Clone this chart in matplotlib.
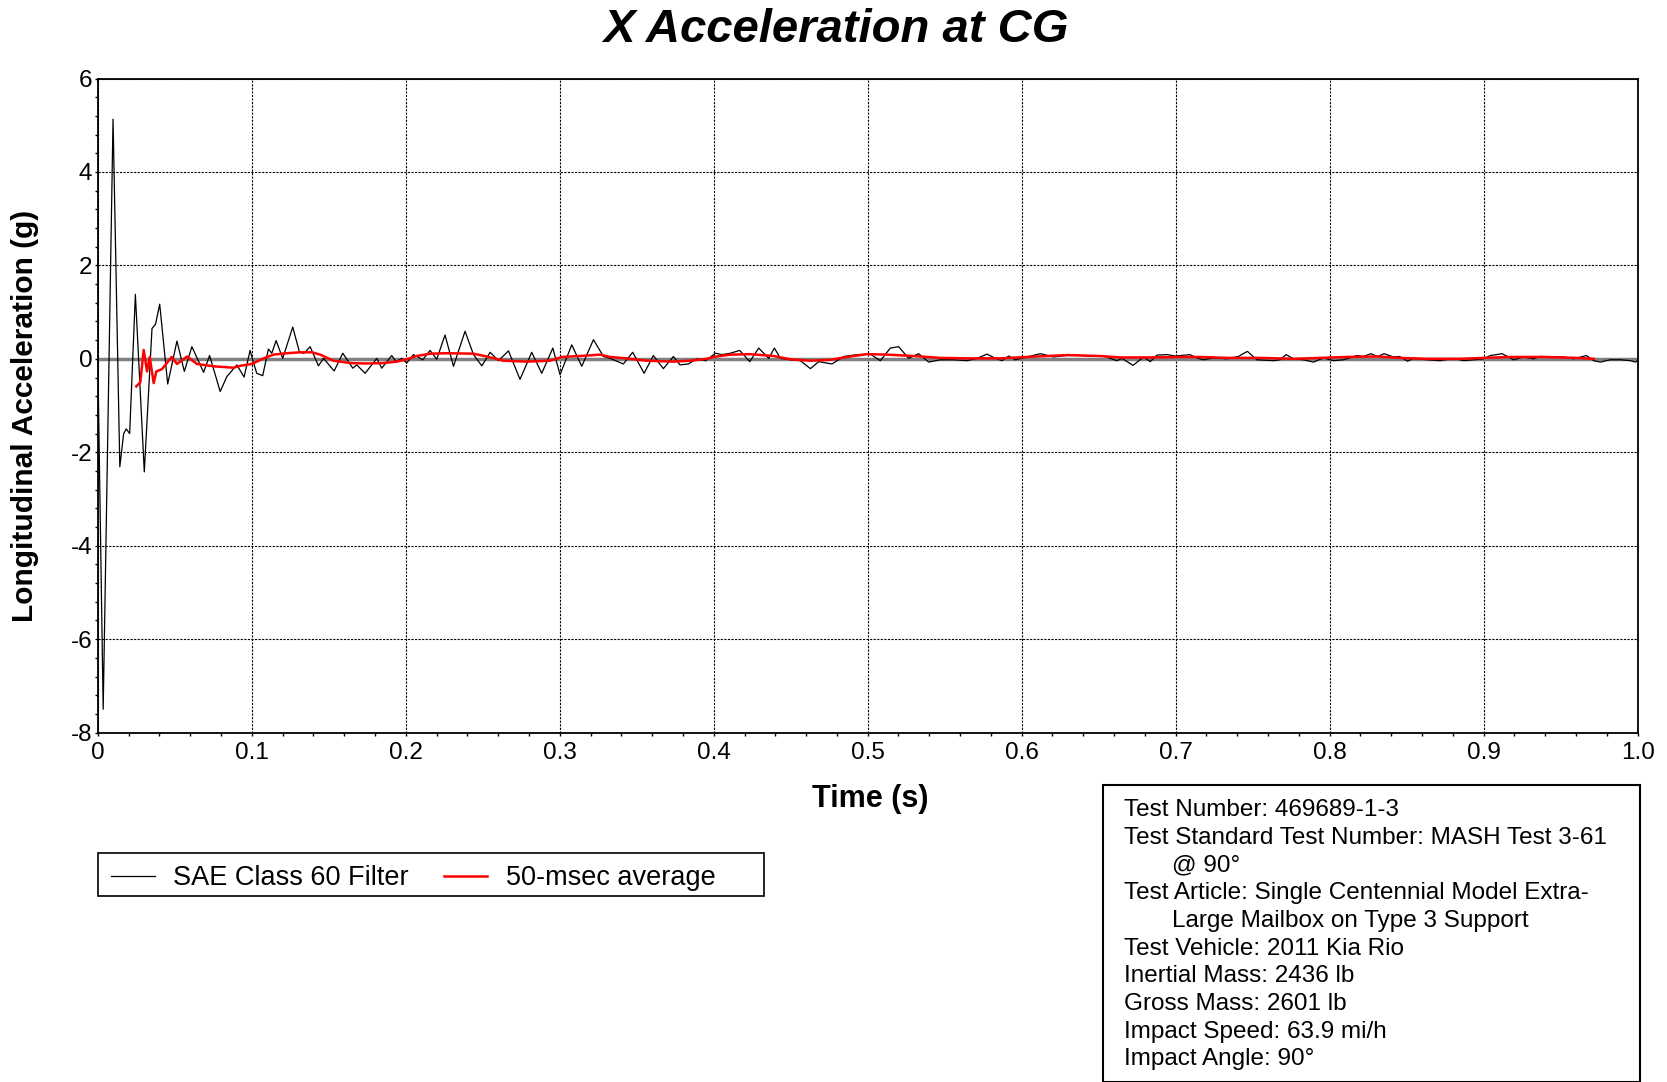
import matplotlib

matplotlib.use("Agg")
import matplotlib.pyplot as plt
from matplotlib.patches import Rectangle
from matplotlib.ticker import MultipleLocator

plt.rcParams["font.family"] = ["Liberation Sans", "DejaVu Sans"]

# SAE Class 60 filtered signal (time in s, accel in g)
SAE_TIME = [
    0.0, 0.0035, 0.0099, 0.0143, 0.0168, 0.0185, 0.0207, 0.0244, 0.0302, 0.0352,
    0.0375, 0.0402, 0.0454, 0.0514, 0.0562, 0.0611, 0.0687, 0.0726, 0.0795, 0.0838,
    0.0903, 0.0950, 0.0989, 0.1006, 0.1032, 0.1071, 0.1108, 0.1130, 0.1158, 0.1201,
    0.1266, 0.1310, 0.1340, 0.1379, 0.1433, 0.1466, 0.1535, 0.1591, 0.1656, 0.1682,
    0.1736, 0.1812, 0.1844, 0.1909, 0.1937, 0.1974, 0.2006, 0.2050, 0.2110, 0.2158,
    0.2201, 0.2255, 0.2310, 0.2385, 0.2440, 0.2494, 0.2548, 0.2602, 0.2667, 0.2742,
    0.2818, 0.2883, 0.2955, 0.3002, 0.3078, 0.3143, 0.3219, 0.3284, 0.3327, 0.3413,
    0.3474, 0.3548, 0.3608, 0.3673, 0.3738, 0.3781, 0.3835, 0.3889, 0.3913, 0.3948,
    0.4011, 0.4054, 0.4108, 0.4169, 0.4234, 0.4292, 0.4357, 0.4394, 0.4433, 0.4498,
    0.4563, 0.4628, 0.4682, 0.4768, 0.4844, 0.4931, 0.5017, 0.5082, 0.5147, 0.5201,
    0.5266, 0.5331, 0.5396, 0.5472, 0.5558, 0.5645, 0.5710, 0.5775, 0.5818, 0.5872,
    0.5916, 0.5959, 0.6035, 0.6121, 0.6208, 0.6338, 0.6446, 0.6532, 0.6619, 0.6651,
    0.6723, 0.6792, 0.6835, 0.6879, 0.6944, 0.7000, 0.7093, 0.7137, 0.7180, 0.7245,
    0.7332, 0.7407, 0.7466, 0.7527, 0.7635, 0.7678, 0.7717, 0.7765, 0.7830, 0.7895,
    0.7960, 0.8025, 0.8090, 0.8177, 0.8220, 0.8268, 0.8311, 0.8354, 0.8415, 0.8454,
    0.8506, 0.8545, 0.8632, 0.8718, 0.8805, 0.8870, 0.8935, 0.9000, 0.9043, 0.9120,
    0.9195, 0.9260, 0.9325, 0.9365, 0.9520, 0.9585, 0.9667, 0.9715, 0.9758, 0.9823,
    0.9889, 0.9954, 0.9986, 1.0,
]
SAE_ACCEL = [
    0.0, -7.5, 5.13, -2.31, -1.6, -1.5, -1.6, 1.38, -2.42, 0.65,
    0.74, 1.17, -0.54, 0.38, -0.27, 0.26, -0.29, 0.07, -0.70, -0.38,
    -0.13, -0.39, 0.18, -0.02, -0.31, -0.36, 0.21, 0.12, 0.39, 0.01,
    0.68, 0.14, 0.12, 0.26, -0.15, 0.01, -0.26, 0.12, -0.20, -0.13,
    -0.31, 0.01, -0.20, 0.07, -0.06, 0.01, -0.09, 0.09, -0.02, 0.18,
    -0.01, 0.51, -0.16, 0.59, 0.09, -0.15, 0.14, -0.04, 0.17, -0.44,
    0.14, -0.31, 0.23, -0.34, 0.30, -0.16, 0.41, 0.05, 0.01, -0.11,
    0.14, -0.31, 0.07, -0.21, 0.05, -0.13, -0.11, 0.0, -0.02, -0.04,
    0.12, 0.09, 0.12, 0.18, -0.06, 0.23, 0.01, 0.23, 0.01, -0.02,
    -0.04, -0.21, -0.06, -0.11, 0.05, 0.09, 0.10, -0.04, 0.23, 0.26,
    0.01, 0.11, -0.07, -0.02, -0.02, -0.04, 0.01, 0.10, 0.03, -0.04,
    0.06, -0.02, 0.04, 0.11, 0.04, 0.09, 0.05, 0.06, -0.04, 0.01,
    -0.14, 0.04, -0.06, 0.08, 0.09, 0.06, 0.09, 0.02, -0.02, 0.02,
    0.0, 0.05, 0.16, -0.02, -0.04, -0.02, 0.09, 0.0, -0.02, -0.07,
    0.02, -0.04, -0.02, 0.07, 0.05, 0.11, 0.05, 0.11, 0.04, 0.05,
    -0.05, 0.01, -0.02, -0.04, 0.01, -0.04, -0.02, 0.0, 0.07, 0.11,
    -0.02, 0.04, 0.0, 0.05, 0.04, 0.0, 0.07, -0.04, -0.07, -0.02,
    -0.02, -0.04, -0.07, -0.04,
]

# 50-msec moving average
AVG_TIME = [
    0.025, 0.0276, 0.0298, 0.032, 0.0337, 0.0363, 0.038, 0.0417, 0.048, 0.0514,
    0.058, 0.0644, 0.0752, 0.0881, 0.0924, 0.1, 0.1076, 0.1141, 0.1227, 0.1314,
    0.139, 0.1444, 0.153, 0.1639, 0.1747, 0.1855, 0.1942, 0.2006, 0.2071, 0.2158,
    0.2266, 0.2439, 0.2526, 0.2634, 0.2786, 0.2937, 0.3013, 0.3132, 0.3262, 0.3327,
    0.3435, 0.3565, 0.3738, 0.3846, 0.3955, 0.4, 0.4108, 0.4238, 0.439, 0.4498,
    0.4628, 0.4758, 0.4866, 0.4996, 0.5126, 0.5299, 0.5472, 0.5645, 0.5861, 0.6035,
    0.6294, 0.6511, 0.6641, 0.6835, 0.703, 0.7158, 0.7332, 0.7548, 0.7765, 0.7938,
    0.8112, 0.8307, 0.8458, 0.8632, 0.8849, 0.9, 0.9173, 0.939, 0.9607, 0.9715,
]
AVG_ACCEL = [
    -0.59, -0.50, 0.19, -0.27, 0.04, -0.52, -0.27, -0.22, 0.04, -0.11,
    0.05, -0.11, -0.16, -0.19, -0.15, -0.11, 0.01, 0.09, 0.12, 0.14,
    0.14, 0.09, -0.04, -0.09, -0.10, -0.09, -0.06, -0.01, 0.06, 0.11,
    0.12, 0.11, 0.05, -0.04, -0.06, -0.04, 0.04, 0.06, 0.09, 0.04,
    0.01, -0.04, -0.06, -0.04, 0.0, 0.04, 0.09, 0.10, 0.06, -0.01,
    -0.04, -0.02, 0.04, 0.10, 0.09, 0.06, 0.02, 0.01, 0.01, 0.04,
    0.08, 0.06, 0.03, 0.03, 0.04, 0.04, 0.02, 0.02, 0.0, 0.02,
    0.04, 0.05, 0.02, 0.0, 0.0, 0.02, 0.04, 0.04, 0.02, 0.0,
]

X_TICKS = [0, 0.1, 0.2, 0.3, 0.4, 0.5, 0.6, 0.7, 0.8, 0.9, 1.0]
X_TICK_LABELS = ["0", "0.1", "0.2", "0.3", "0.4", "0.5", "0.6", "0.7", "0.8", "0.9", "1.0"]
Y_TICKS = [-8, -6, -4, -2, 0, 2, 4, 6]
Y_TICK_LABELS = ["-8", "-6", "-4", "-2", "0", "2", "4", "6"]

SERIES_LABELS = ["SAE Class 60 Filter", "50-msec average"]

INFO_LINES = [
    "Test Number: 469689-1-3",
    "Test Standard Test Number: MASH Test 3-61",
    "@ 90°",
    "Test Article: Single Centennial Model Extra-",
    "Large Mailbox on Type 3 Support",
    "Test Vehicle: 2011 Kia Rio",
    "Inertial Mass: 2436 lb",
    "Gross Mass: 2601 lb",
    "Impact Speed: 63.9 mi/h",
    "Impact Angle: 90°",
]
INFO_INDENTED = [False, False, True, False, True, False, False, False, False, False]

W, H = 1667, 1082


def fx(px):
    return px / W


def fy(py):
    return 1 - py / H


fig = plt.figure(figsize=(W / 100, H / 100), dpi=100)
ax = fig.add_axes([fx(97.8), fy(732.6), fx(1637.6) - fx(97.8), fy(78.5) - fy(732.6)])

ax.axhline(0, color="#808080", linewidth=2.5, zorder=1.8)
ax.plot(SAE_TIME, SAE_ACCEL, color="black", linewidth=0.9, label=SERIES_LABELS[0], zorder=2)
ax.plot(AVG_TIME, AVG_ACCEL, color="#ff0000", linewidth=1.8, label=SERIES_LABELS[1], zorder=3)

ax.set_xlim(0, 1.0)
ax.set_ylim(-8, 6)
ax.set_xticks(X_TICKS)
ax.set_xticklabels(X_TICK_LABELS)
ax.set_yticks(Y_TICKS)
ax.set_yticklabels(Y_TICK_LABELS)
ax.xaxis.set_minor_locator(MultipleLocator(0.02))
ax.yaxis.set_minor_locator(MultipleLocator(0.4))
ax.tick_params(axis="both", which="major", direction="out", length=2.5, width=1.0, labelsize=17.5)
ax.tick_params(axis="both", which="minor", direction="out", length=2.0, width=1.0)
ax.tick_params(axis="x", which="major", pad=4.5)
ax.tick_params(axis="y", which="major", pad=1.5)
ax.grid(True, which="major", color="black", linestyle=(0, (2, 1.2)), linewidth=0.8)
for spine in ax.spines.values():
    spine.set_linewidth(1.3)

ax.set_xlabel("Time (s)", fontsize=22, fontweight="bold", va="center")
ax.xaxis.set_label_coords((870 - 97.8) / (1637.6 - 97.8), -(799 - 732.6) / (732.6 - 78.5))
ax.set_ylabel("Longitudinal Acceleration (g)", fontsize=21.5, fontweight="bold", va="center")
ax.yaxis.set_label_coords(-(97.8 - 25) / (1637.6 - 97.8), (732.6 - 416) / (732.6 - 78.5))

fig.suptitle("X Acceleration at CG", x=fx(836), y=fy(30.5), va="center",
             fontsize=34, fontweight="bold", fontstyle="italic")

# legend with its own box
fig.patches.append(Rectangle((fx(97.8), fy(896.2)), fx(764.4) - fx(97.8), fy(852.6) - fy(896.2),
                             transform=fig.transFigure, fill=False, edgecolor="black", linewidth=1.2))
ax.legend(loc="center left", bbox_to_anchor=(fx(97.8), fy(878)), bbox_transform=fig.transFigure,
          frameon=False, ncol=2, fontsize=19.5, handlelength=1.6, handletextpad=0.68,
          columnspacing=1.3, borderpad=0, borderaxespad=0.5)

# test info box
fig.patches.append(Rectangle((fx(1102.5), fy(1081.5)), fx(1640.4) - fx(1102.5), fy(784.6) - fy(1081.5),
                             transform=fig.transFigure, fill=False, edgecolor="black", linewidth=1.5))
for i, (line, indented) in enumerate(zip(INFO_LINES, INFO_INDENTED)):
    x = 1172 if indented else 1124
    fig.text(fx(x), fy(816.5 + i * 27.64), line, fontsize=17.5, va="baseline", ha="left")

fig.savefig("out.png", dpi=100)
